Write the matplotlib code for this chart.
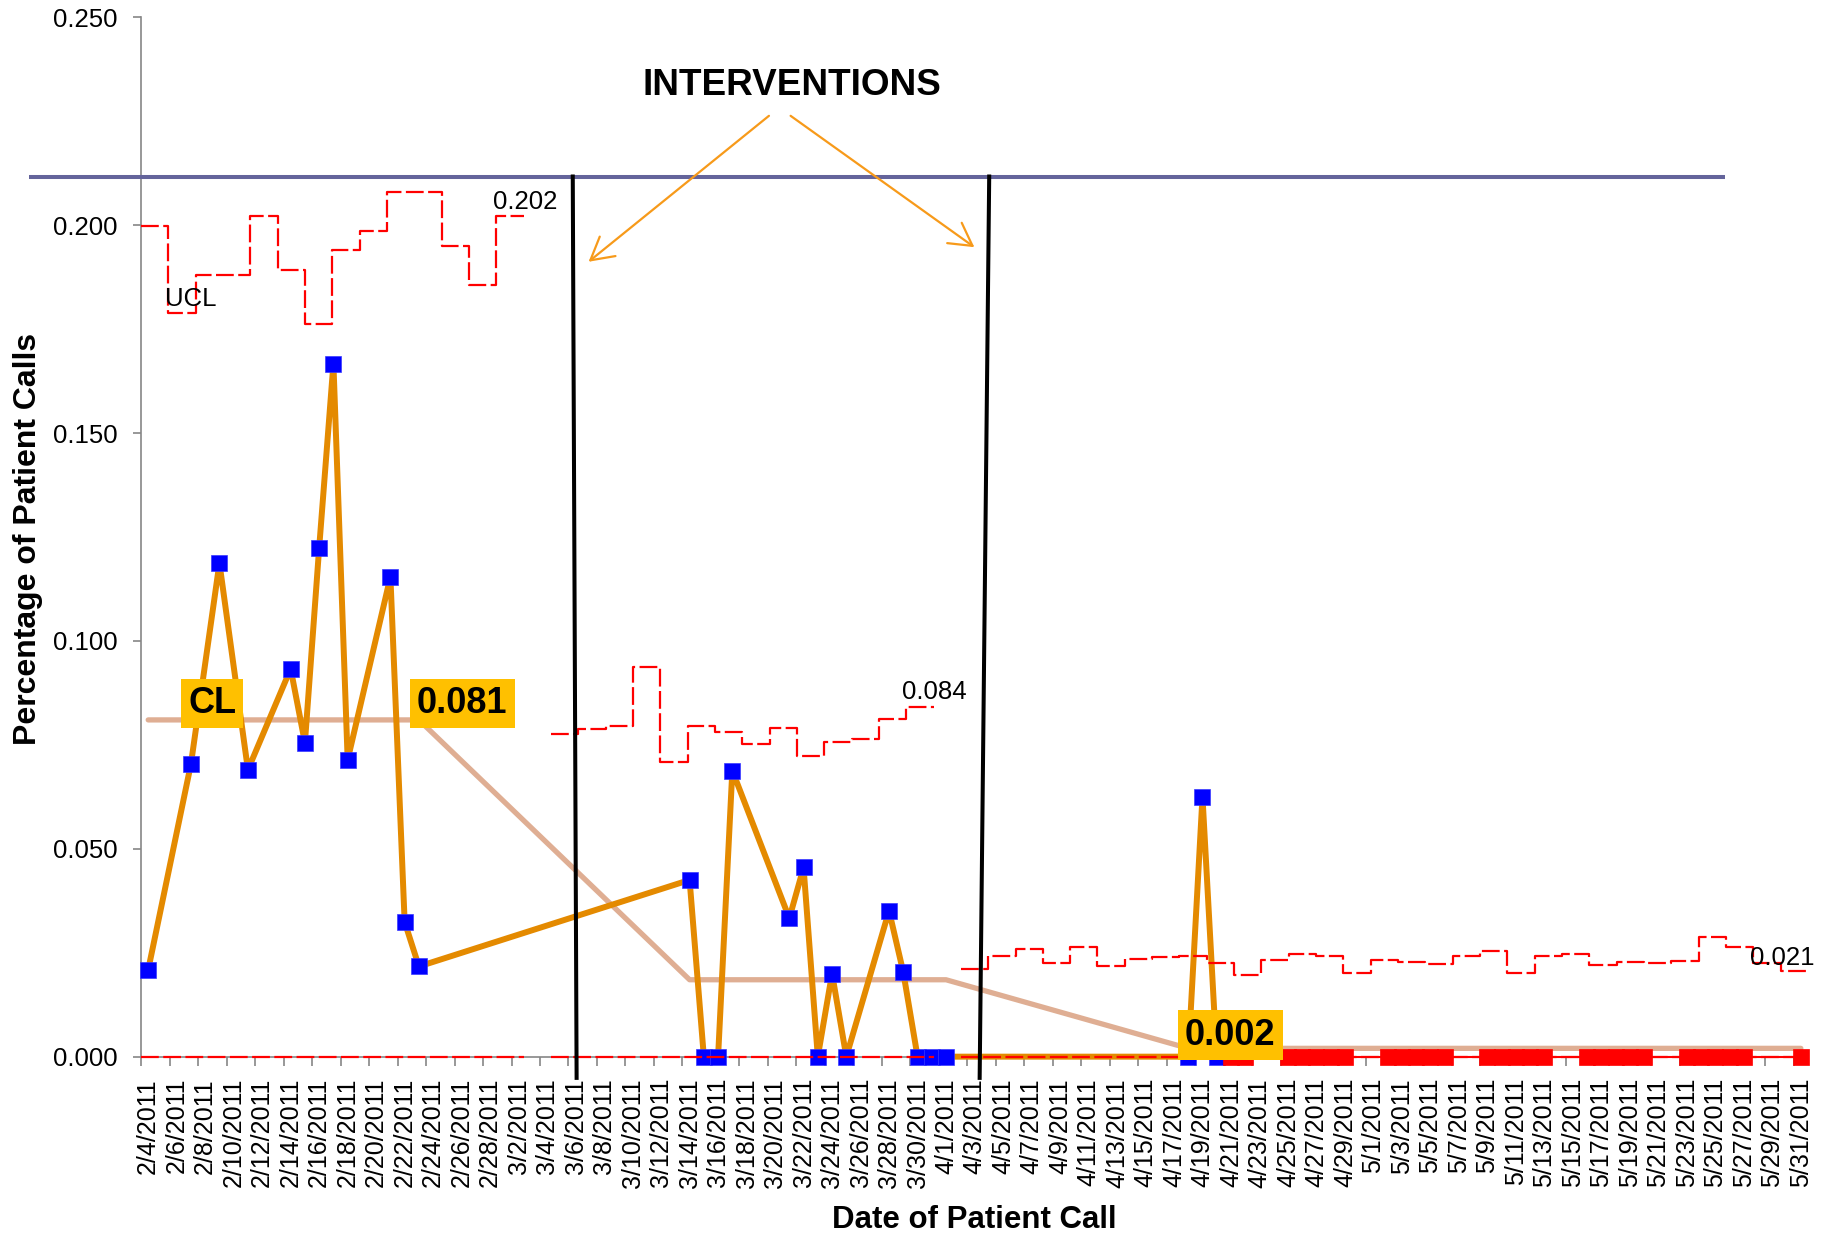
import numpy as np
import pandas as pd
import matplotlib
matplotlib.use("Agg")
import matplotlib.pyplot as plt
from matplotlib.patches import FancyArrowPatch

plt.rcParams['font.family'] = ['Liberation Sans', 'DejaVu Sans']

# ---------------- data ----------------
start_date = '2011-02-04'
end_date = '2011-05-31'

call_dates = ['2011-02-04', '2011-02-07', '2011-02-09', '2011-02-11', '2011-02-14',
              '2011-02-15', '2011-02-16', '2011-02-17', '2011-02-18', '2011-02-21',
              '2011-02-22', '2011-02-23',
              '2011-03-14', '2011-03-15', '2011-03-16', '2011-03-17', '2011-03-21',
              '2011-03-22', '2011-03-23', '2011-03-24', '2011-03-25', '2011-03-28',
              '2011-03-29', '2011-03-30', '2011-03-31', '2011-04-01',
              '2011-04-18', '2011-04-19', '2011-04-20']
call_pct = [0.0209, 0.0704, 0.1187, 0.0690, 0.0933,
            0.0755, 0.1224, 0.1667, 0.0714, 0.1154,
            0.0324, 0.0217,
            0.0425, 0.0, 0.0, 0.0688, 0.0333,
            0.0455, 0.0, 0.0200, 0.0, 0.0351,
            0.0203, 0.0, 0.0, 0.0,
            0.0, 0.0625, 0.0]

late_dates = ['2011-04-21', '2011-04-22', '2011-04-25', '2011-04-26', '2011-04-27',
              '2011-04-28', '2011-04-29', '2011-05-02', '2011-05-03', '2011-05-04',
              '2011-05-05', '2011-05-06', '2011-05-09', '2011-05-10', '2011-05-11',
              '2011-05-12', '2011-05-13', '2011-05-16', '2011-05-17', '2011-05-18',
              '2011-05-19', '2011-05-20', '2011-05-23', '2011-05-24', '2011-05-25',
              '2011-05-26', '2011-05-27', '2011-05-31']
late_pct = [0.0] * len(late_dates)

phase_starts = ['2011-02-04', '2011-03-14', '2011-04-18']
cl_levels = [0.081, 0.0185, 0.002]
cl_labels = ['0.081', '0.002']

nan = np.nan
ucl = [0.1998, 0.1788, 0.1880, 0.1880, 0.2022, 0.1891, 0.1762, 0.1940, 0.1986, 0.2079,
       0.2079, 0.1951, 0.1856, 0.2022,
       nan,
       0.0775, 0.0788, 0.0795, 0.0938, 0.0708, 0.0795, 0.0782, 0.0752, 0.0790, 0.0723,
       0.0758, 0.0764, 0.0812, 0.0842,
       nan,
       0.0210, 0.0242, 0.0258, 0.0225, 0.0263, 0.0218, 0.0235, 0.0240, 0.0243, 0.0225,
       0.0197, 0.0233, 0.0247, 0.0243, 0.0201, 0.0233, 0.0227, 0.0222, 0.0243, 0.0253,
       0.0201, 0.0241, 0.0247, 0.0220, 0.0228, 0.0225, 0.0229, 0.0289, 0.0264, 0.0225,
       0.0206]
ucl_labels = ['0.202', '0.084', '0.021']

y_ticks = [0.0, 0.05, 0.10, 0.15, 0.20, 0.25]

# ---------------- helpers ----------------
t0 = pd.Timestamp(start_date)
t1 = pd.Timestamp(end_date)
ndays = (t1 - t0).days + 1


def day(ds):
    return np.asarray((pd.to_datetime(ds) - t0).days, dtype=float)


x_main = day(call_dates)
x_late = day(late_dates)
x_phase = day(phase_starts)

# ---------------- figure ----------------
fig = plt.figure(figsize=(18.37, 12.35), dpi=100)
ax = fig.add_axes([0.0768, 0.1444, 0.9074, 0.8416])
ax.set_xlim(-0.5, ndays - 0.5)
ax.set_ylim(0, 0.25)

ORANGE = '#E48A00'
TAN = '#DFAE93'
GREY = '#868686'

# centre line through all observation dates
x_all = np.concatenate([x_main, x_late])
order = np.argsort(x_all)
x_all = x_all[order]
phase_idx = np.searchsorted(x_phase, x_all, side='right') - 1
cl_all = np.asarray(cl_levels)[phase_idx]
ax.plot(x_all, cl_all, color=TAN, lw=3.8, solid_capstyle='round',
        solid_joinstyle='round', zorder=2, clip_on=False)

# main data series
ax.plot(x_main, call_pct, color=ORANGE, lw=4.3, solid_joinstyle='round', zorder=3,
        clip_on=False)
ax.plot(x_main, call_pct, ls='none', marker='s', ms=11.8, mfc='#0000FF',
        mec='#3A3AFF', mew=0.5, zorder=4, clip_on=False)

# later series (red markers)
ax.plot(x_late, late_pct, color='#FF0000', lw=1.5, marker='s', ms=11.8,
        mfc='#FF0000', mec='#FF0000', mew=0.5, zorder=5, clip_on=False)

# control limits as step lines on equal bins across the axis
ucl_arr = np.asarray(ucl, dtype=float)
edges = np.linspace(-0.5, ndays - 0.5, len(ucl_arr) + 1)
lcl_arr = np.where(np.isnan(ucl_arr), np.nan, 0.0)
ax.plot(edges, np.append(ucl_arr, ucl_arr[-1]), drawstyle='steps-post',
        color='#FF0000', lw=1.6, dashes=(8, 2), zorder=6)
ax.plot(edges, np.append(lcl_arr, lcl_arr[-1]), drawstyle='steps-post',
        color='#FF0000', lw=1.6, dashes=(8, 2), zorder=6, clip_on=False)

# UCL value labels
ax.text(26.48, 0.2056, ucl_labels[0], fontsize=18.5, ha='center', va='center', zorder=10)
ax.text(55.21, 0.0876, ucl_labels[1], fontsize=18.5, ha='center', va='center', zorder=10)
ax.text(114.7, 0.0237, ucl_labels[2], fontsize=18.5, ha='center', va='center', zorder=10)
ax.text(3.0, 0.1822, 'UCL', fontsize=18.5, ha='center', va='center', zorder=10)

# yellow CL labels
box = dict(boxstyle='square,pad=0.2', fc='#FFC000', ec='none')
ax.text(4.48, 0.0849, 'CL', fontsize=26, fontweight='bold', ha='center',
        va='center', bbox=box, zorder=9)
ax.text(22.05, 0.0849, cl_labels[0], fontsize=26, fontweight='bold', ha='center',
        va='center', bbox=box, zorder=9)
ax.text(75.94, 0.0052, cl_labels[1], fontsize=26, fontweight='bold', ha='center',
        va='center', bbox=box, zorder=9)

# horizontal blue bar
ax.plot([-8.37, 110.7], [0.2117, 0.2117], color='#64649B', lw=2.9,
        solid_capstyle='butt', clip_on=False, zorder=7)

# intervention lines
ax.plot([29.80, 30.07], [0.2117, -0.0051], color='black', lw=2.9,
        clip_on=False, zorder=8)
ax.plot([59.03, 58.36], [0.2117, -0.0051], color='black', lw=2.9,
        clip_on=False, zorder=8)

# INTERVENTIONS label and arrows
ax.text(45.15, 0.2313, 'INTERVENTIONS', fontsize=26.6, fontweight='bold',
        ha='center', va='baseline', zorder=10)
for tail, head in [((43.57, 0.2263), (30.91, 0.1912)),
                   ((45.09, 0.2263), (57.99, 0.1947))]:
    ax.add_patch(FancyArrowPatch(tail, head,
                                 arrowstyle='->,head_length=0.8,head_width=0.45',
                                 mutation_scale=20, color='#F79A1A', lw=1.6,
                                 shrinkA=0, shrinkB=0, zorder=10))

# axes styling
for s in ['top', 'right']:
    ax.spines[s].set_visible(False)
for s in ['left', 'bottom']:
    ax.spines[s].set_color(GREY)
    ax.spines[s].set_linewidth(1.2)
ax.spines['bottom'].set_zorder(1)

ax.set_yticks(y_ticks)
ax.set_yticklabels([f'{v:.3f}' for v in y_ticks])
ax.tick_params(axis='y', length=5.8, width=1.2, color=GREY, labelsize=18.5, pad=11.3)

tick_dates = pd.date_range(t0, t1, freq='2D')
tick_pos = np.asarray((tick_dates - t0).days, dtype=float)
ax.set_xticks(tick_pos)
ax.set_xticklabels([f'{d.month}/{d.day}/{d.year}' for d in tick_dates], rotation=90)
ax.set_xticks(tick_pos - 0.5, minor=True)
ax.tick_params(axis='x', which='major', length=0, pad=15.3, labelsize=18)
ax.tick_params(axis='x', which='minor', length=6.5, width=1.2, color=GREY)

fig.text(28 / 1837, 1 - 539 / 1235, 'Percentage of Patient Calls', rotation=90,
         fontsize=23, fontweight='bold', ha='center', va='center')
fig.text(974.2 / 1837, 1 - 1228.3 / 1235, 'Date of Patient Call',
         fontsize=22.5, fontweight='bold', ha='center', va='baseline')

fig.savefig('out.png', dpi=100)
